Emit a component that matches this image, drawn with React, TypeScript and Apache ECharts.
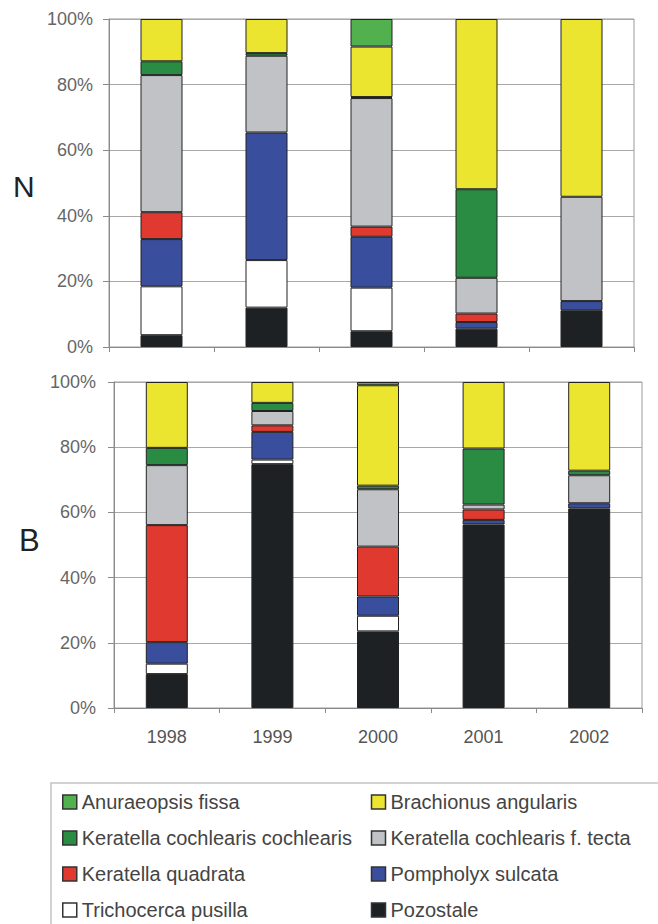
import React, { useEffect, useRef } from "react";
import * as echarts from "echarts";

const years = ["1998", "1999", "2000", "2001", "2002"];
const yTickValues = [0, 20, 40, 60, 80, 100];
const panelLabels = ["N", "B"];

// Stack order, bottom to top
const speciesNames = [
  "Pozostale",
  "Trichocerca pusilla",
  "Pompholyx sulcata",
  "Keratella quadrata",
  "Keratella cochlearis f. tecta",
  "Keratella cochlearis cochlearis",
  "Brachionus angularis",
  "Anuraeopsis fissa",
];
const legendOrder = [
  "Anuraeopsis fissa",
  "Brachionus angularis",
  "Keratella cochlearis cochlearis",
  "Keratella cochlearis f. tecta",
  "Keratella quadrata",
  "Pompholyx sulcata",
  "Trichocerca pusilla",
  "Pozostale",
];
const speciesColors = [
  "#1e2124",
  "#ffffff",
  "#3a4e9e",
  "#e0392f",
  "#c0c2c6",
  "#2a8c43",
  "#ece530",
  "#52b04e",
];

// Panel N (percent)
const pozostaleN = [3.6, 12.0, 4.8, 5.6, 11.2];
const trichocercaN = [14.9, 14.5, 13.3, 0, 0];
const pompholyxN = [14.4, 38.9, 15.5, 2.0, 2.8];
const quadrataN = [8.2, 0, 3.1, 2.6, 0];
const tectaN = [41.8, 23.4, 39.2, 10.9, 31.8];
const cochlearisN = [4.2, 0.8, 0.3, 27.0, 0];
const brachionusN = [12.9, 10.4, 15.4, 51.9, 54.2];
const anuraeopsisN = [0, 0, 8.4, 0, 0];

// Panel B (percent)
const pozostaleB = [10.4, 74.8, 23.5, 56.3, 61.2];
const trichocercaB = [3.2, 1.4, 4.8, 0, 0];
const pompholyxB = [6.6, 8.5, 5.9, 1.4, 1.6];
const quadrataB = [35.9, 2.0, 15.3, 3.2, 0];
const tectaB = [18.4, 4.4, 17.6, 1.5, 8.6];
const cochlearisB = [5.3, 2.5, 1.1, 17.2, 1.4];
const brachionusB = [20.2, 6.4, 30.8, 20.4, 27.2];
const anuraeopsisB = [0, 0, 1.0, 0, 0];

const panelN = [pozostaleN, trichocercaN, pompholyxN, quadrataN, tectaN, cochlearisN, brachionusN, anuraeopsisN];
const panelB = [pozostaleB, trichocercaB, pompholyxB, quadrataB, tectaB, cochlearisB, brachionusB, anuraeopsisB];

const FONT = "'Liberation Sans', Arial, sans-serif";

export default function App() {
  const ref = useRef<HTMLDivElement>(null);

  useEffect(() => {
    if (!ref.current) return;
    const chart = echarts.init(ref.current, undefined, { renderer: "svg" });

    const grids = [
      { left: 109, top: 19, width: 525, height: 328, show: true, borderColor: "#9a9a9a", borderWidth: 1 },
      { left: 114, top: 382, width: 528, height: 326, show: true, borderColor: "#9a9a9a", borderWidth: 1 },
    ];

    const xAxes = [0, 1].map((i) => ({
      type: "category",
      gridIndex: i,
      data: years,
      boundaryGap: true,
      axisLine: { show: true, lineStyle: { color: "#8a8a8a", width: 1 } },
      axisTick: { show: true, interval: 0, length: 5, lineStyle: { color: "#8a8a8a" } },
      axisLabel: {
        show: i === 1,
        margin: 20,
        fontSize: 18,
        fontFamily: FONT,
        color: "#555",
      },
    }));

    const yAxes = [0, 1].map((i) => ({
      type: "value",
      gridIndex: i,
      min: yTickValues[0],
      max: yTickValues[yTickValues.length - 1],
      interval: yTickValues[1] - yTickValues[0],
      axisLine: { show: true, lineStyle: { color: "#8a8a8a", width: 1 } },
      axisTick: { show: true, length: 6, lineStyle: { color: "#8a8a8a" } },
      splitLine: { show: true, lineStyle: { color: "#a8a8a8", width: 1 } },
      axisLabel: {
        margin: i === 0 ? 16 : 18,
        fontSize: 18,
        fontFamily: FONT,
        color: "#666",
        formatter: "{value}%",
      },
    }));

    const series: any[] = [];
    [panelN, panelB].forEach((panel, gi) => {
      panel.forEach((vals, si) => {
        series.push({
          type: "bar",
          name: speciesNames[si],
          xAxisIndex: gi,
          yAxisIndex: gi,
          stack: "panel" + gi,
          barWidth: 42,
          data: vals.map((v) => (v === 0 ? null : v)),
          itemStyle: {
            color: speciesColors[si],
            borderColor: "#222",
            borderWidth: 1,
          },
          emphasis: { disabled: true },
        });
      });
    });

    chart.setOption({
      animation: false,
      backgroundColor: "#ffffff",
      grid: grids,
      xAxis: xAxes,
      yAxis: yAxes,
      series,
      legend: {
        data: legendOrder,
        orient: "horizontal",
        left: 62,
        top: 792,
        width: 620,
        padding: 0,
        itemGap: 16,
        itemWidth: 14,
        itemHeight: 14,
        icon: "rect",
        selectedMode: false,
        itemStyle: { borderColor: "#333", borderWidth: 1.5 },
        textStyle: {
          fontSize: 20,
          fontFamily: FONT,
          color: "#444",
          width: 273,
          lineHeight: 20,
          overflow: "none",
        },
      },
      graphic: [
        {
          type: "rect",
          shape: { x: 51, y: 783, width: 700, height: 200 },
          style: { fill: "none", stroke: "#c4c4c4", lineWidth: 1.5 },
          silent: true,
          z: -1,
        },
        {
          type: "text",
          x: 13,
          y: 186,
          style: {
            text: panelLabels[0],
            fontSize: 30,
            fontFamily: FONT,
            fill: "#222",
            textVerticalAlign: "middle",
          },
        },
        {
          type: "text",
          x: 19,
          y: 540,
          style: {
            text: panelLabels[1],
            fontSize: 31,
            fontFamily: FONT,
            fill: "#222",
            textVerticalAlign: "middle",
          },
        },
      ],
    });

    return () => chart.dispose();
  }, []);

  return (
    <div
      ref={ref}
      style={{ position: "fixed", left: 0, top: 0, width: 658, height: 924, background: "#fff" }}
    />
  );
}
